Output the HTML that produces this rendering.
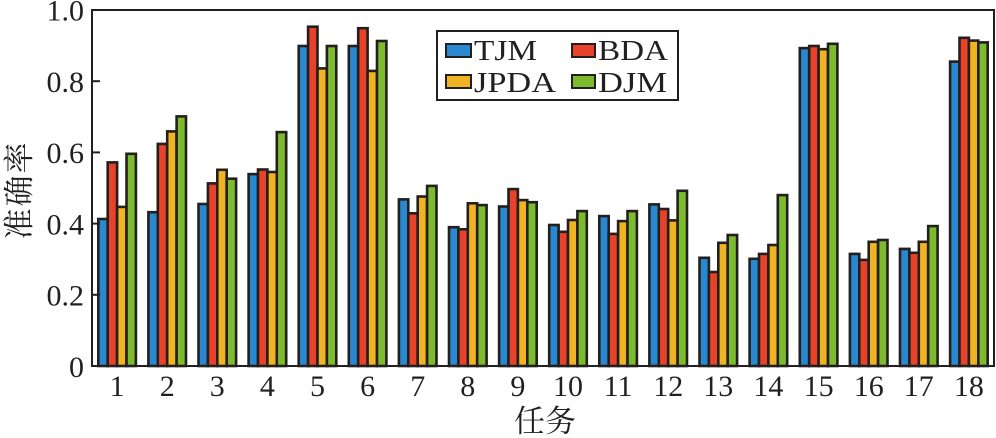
<!DOCTYPE html>
<html><head><meta charset="utf-8"><style>
html,body{margin:0;padding:0;background:#fff;}
svg{display:block;}
text{font-family:"Liberation Serif","Noto Serif CJK SC",serif;fill:#231f20;}
.b rect{stroke:#231f1c;stroke-width:2.6;}
.t{fill:#2a88d0}.r{fill:#e8432a}.j{fill:#f0b323}.d{fill:#7cbb2e}
</style></head><body>
<svg width="996" height="438" viewBox="0 0 996 438" xmlns="http://www.w3.org/2000/svg">
<rect x="0" y="0" width="996" height="438" fill="#fff"/>
<g class="b">
<g transform="translate(117.1,366) scale(1,-1)"><rect class="t" x="-18.8" y="0" width="9.4" height="147.0"/><rect class="r" x="-9.4" y="0" width="9.4" height="203.6"/><rect class="j" x="0" y="0" width="9.4" height="159.1"/><rect class="d" x="9.4" y="0" width="9.4" height="212.2"/></g>
<g transform="translate(167.2,366) scale(1,-1)"><rect class="t" x="-18.8" y="0" width="9.4" height="153.8"/><rect class="r" x="-9.4" y="0" width="9.4" height="222.1"/><rect class="j" x="0" y="0" width="9.4" height="234.6"/><rect class="d" x="9.4" y="0" width="9.4" height="249.6"/></g>
<g transform="translate(217.3,366) scale(1,-1)"><rect class="t" x="-18.8" y="0" width="9.4" height="162.0"/><rect class="r" x="-9.4" y="0" width="9.4" height="182.6"/><rect class="j" x="0" y="0" width="9.4" height="196.2"/><rect class="d" x="9.4" y="0" width="9.4" height="187.3"/></g>
<g transform="translate(267.4,366) scale(1,-1)"><rect class="t" x="-18.8" y="0" width="9.4" height="191.9"/><rect class="r" x="-9.4" y="0" width="9.4" height="196.5"/><rect class="j" x="0" y="0" width="9.4" height="194.0"/><rect class="d" x="9.4" y="0" width="9.4" height="233.9"/></g>
<g transform="translate(317.5,366) scale(1,-1)"><rect class="t" x="-18.8" y="0" width="9.4" height="320.0"/><rect class="r" x="-9.4" y="0" width="9.4" height="339.3"/><rect class="j" x="0" y="0" width="9.4" height="297.6"/><rect class="d" x="9.4" y="0" width="9.4" height="320.0"/></g>
<g transform="translate(367.6,366) scale(1,-1)"><rect class="t" x="-18.8" y="0" width="9.4" height="320.0"/><rect class="r" x="-9.4" y="0" width="9.4" height="337.8"/><rect class="j" x="0" y="0" width="9.4" height="295.1"/><rect class="d" x="9.4" y="0" width="9.4" height="325.0"/></g>
<g transform="translate(417.7,366) scale(1,-1)"><rect class="t" x="-18.8" y="0" width="9.4" height="166.6"/><rect class="r" x="-9.4" y="0" width="9.4" height="152.7"/><rect class="j" x="0" y="0" width="9.4" height="169.5"/><rect class="d" x="9.4" y="0" width="9.4" height="180.1"/></g>
<g transform="translate(467.8,366) scale(1,-1)"><rect class="t" x="-18.8" y="0" width="9.4" height="138.8"/><rect class="r" x="-9.4" y="0" width="9.4" height="136.7"/><rect class="j" x="0" y="0" width="9.4" height="162.7"/><rect class="d" x="9.4" y="0" width="9.4" height="160.9"/></g>
<g transform="translate(517.9,366) scale(1,-1)"><rect class="t" x="-18.8" y="0" width="9.4" height="159.5"/><rect class="r" x="-9.4" y="0" width="9.4" height="176.9"/><rect class="j" x="0" y="0" width="9.4" height="165.9"/><rect class="d" x="9.4" y="0" width="9.4" height="163.8"/></g>
<g transform="translate(568.0,366) scale(1,-1)"><rect class="t" x="-18.8" y="0" width="9.4" height="141.0"/><rect class="r" x="-9.4" y="0" width="9.4" height="134.2"/><rect class="j" x="0" y="0" width="9.4" height="146.0"/><rect class="d" x="9.4" y="0" width="9.4" height="154.9"/></g>
<g transform="translate(618.1,366) scale(1,-1)"><rect class="t" x="-18.8" y="0" width="9.4" height="149.9"/><rect class="r" x="-9.4" y="0" width="9.4" height="132.1"/><rect class="j" x="0" y="0" width="9.4" height="144.9"/><rect class="d" x="9.4" y="0" width="9.4" height="154.9"/></g>
<g transform="translate(668.2,366) scale(1,-1)"><rect class="t" x="-18.8" y="0" width="9.4" height="161.6"/><rect class="r" x="-9.4" y="0" width="9.4" height="157.0"/><rect class="j" x="0" y="0" width="9.4" height="145.6"/><rect class="d" x="9.4" y="0" width="9.4" height="175.2"/></g>
<g transform="translate(718.3,366) scale(1,-1)"><rect class="t" x="-18.8" y="0" width="9.4" height="108.2"/><rect class="r" x="-9.4" y="0" width="9.4" height="94.0"/><rect class="j" x="0" y="0" width="9.4" height="123.2"/><rect class="d" x="9.4" y="0" width="9.4" height="131.0"/></g>
<g transform="translate(768.4,366) scale(1,-1)"><rect class="t" x="-18.8" y="0" width="9.4" height="107.2"/><rect class="r" x="-9.4" y="0" width="9.4" height="112.1"/><rect class="j" x="0" y="0" width="9.4" height="121.0"/><rect class="d" x="9.4" y="0" width="9.4" height="170.9"/></g>
<g transform="translate(818.6,366) scale(1,-1)"><rect class="t" x="-18.8" y="0" width="9.4" height="317.9"/><rect class="r" x="-9.4" y="0" width="9.4" height="320.0"/><rect class="j" x="0" y="0" width="9.4" height="316.8"/><rect class="d" x="9.4" y="0" width="9.4" height="322.2"/></g>
<g transform="translate(868.7,366) scale(1,-1)"><rect class="t" x="-18.8" y="0" width="9.4" height="112.1"/><rect class="r" x="-9.4" y="0" width="9.4" height="106.1"/><rect class="j" x="0" y="0" width="9.4" height="124.2"/><rect class="d" x="9.4" y="0" width="9.4" height="126.0"/></g>
<g transform="translate(918.8,366) scale(1,-1)"><rect class="t" x="-18.8" y="0" width="9.4" height="117.1"/><rect class="r" x="-9.4" y="0" width="9.4" height="113.2"/><rect class="j" x="0" y="0" width="9.4" height="124.2"/><rect class="d" x="9.4" y="0" width="9.4" height="139.9"/></g>
<g transform="translate(968.9,366) scale(1,-1)"><rect class="t" x="-18.8" y="0" width="9.4" height="304.4"/><rect class="r" x="-9.4" y="0" width="9.4" height="328.2"/><rect class="j" x="0" y="0" width="9.4" height="325.4"/><rect class="d" x="9.4" y="0" width="9.4" height="323.6"/></g>
</g>
<rect x="92" y="10" width="902" height="356" fill="none" stroke="#231f20" stroke-width="2"/>
<g stroke="#231f20" stroke-width="2">
<line x1="92" y1="294.8" x2="100" y2="294.8"/>
<line x1="92" y1="223.6" x2="100" y2="223.6"/>
<line x1="92" y1="152.4" x2="100" y2="152.4"/>
<line x1="92" y1="81.2" x2="100" y2="81.2"/>
</g>
<g font-size="30" text-anchor="end">
<text x="84" y="377">0</text>
<text x="84" y="305.5">0.2</text>
<text x="84" y="234.3">0.4</text>
<text x="84" y="163.1">0.6</text>
<text x="84" y="91.9">0.8</text>
<text x="84" y="20.7">1.0</text>
</g>
<g font-size="30" text-anchor="middle">
<text x="117.1" y="396">1</text>
<text x="167.2" y="396">2</text>
<text x="217.3" y="396">3</text>
<text x="267.4" y="396">4</text>
<text x="317.5" y="396">5</text>
<text x="367.6" y="396">6</text>
<text x="417.7" y="396">7</text>
<text x="467.8" y="396">8</text>
<text x="517.9" y="396">9</text>
<text x="568.0" y="396">10</text>
<text x="618.1" y="396">11</text>
<text x="668.2" y="396">12</text>
<text x="718.3" y="396">13</text>
<text x="768.4" y="396">14</text>
<text x="818.6" y="396">15</text>
<text x="868.7" y="396">16</text>
<text x="918.8" y="396">17</text>
<text x="968.9" y="396">18</text>
</g>
<text x="545" y="432" font-size="31" text-anchor="middle" style="font-family:'Noto Serif CJK SC','Noto Sans CJK SC',serif;">任务</text>
<text transform="translate(30,190) rotate(-90)" x="0" y="0" font-size="31" text-anchor="middle" letter-spacing="2" style="font-family:'Noto Serif CJK SC','Noto Sans CJK SC',serif;">准确率</text>
<g>
<rect x="437" y="31" width="241" height="69" fill="#fff" stroke="#231f20" stroke-width="2"/>
<rect x="446" y="44" width="25" height="13" class="t" stroke="#231f1c" stroke-width="2"/>
<rect x="572" y="44" width="23" height="13" class="r" stroke="#231f1c" stroke-width="2"/>
<rect x="446" y="75" width="25" height="13" class="j" stroke="#231f1c" stroke-width="2"/>
<rect x="572" y="75" width="23" height="13" class="d" stroke="#231f1c" stroke-width="2"/>
<g font-size="28">
<text x="474" y="60" textLength="63" lengthAdjust="spacingAndGlyphs">TJM</text>
<text x="598" y="60" textLength="70" lengthAdjust="spacingAndGlyphs">BDA</text>
<text x="474" y="92" textLength="82" lengthAdjust="spacingAndGlyphs">JPDA</text>
<text x="598" y="92" textLength="69" lengthAdjust="spacingAndGlyphs">DJM</text>
</g>
</g>
</svg>
</body></html>
